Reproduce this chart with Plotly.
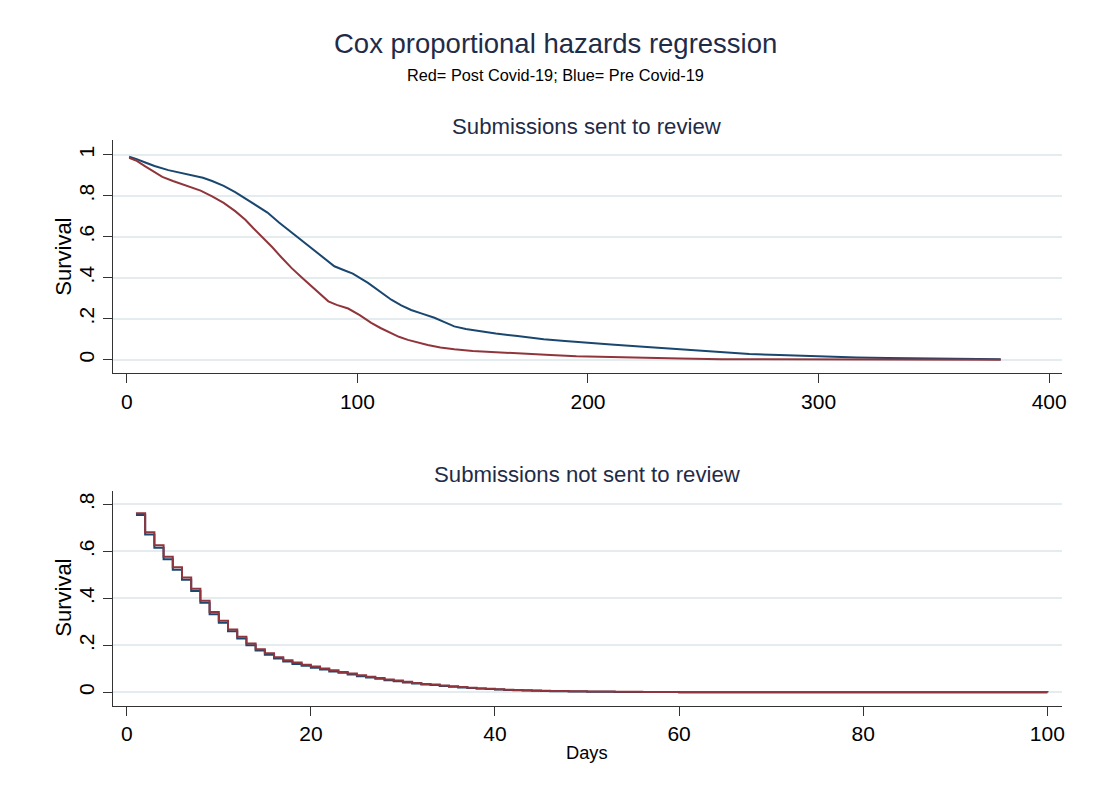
import plotly.graph_objects as go

# ---- Data: Submissions sent to review (top panel) ----
top_pre_days = [1, 4, 8, 12, 18, 23, 28, 33, 37, 42, 47, 51, 56, 61, 66, 71.5, 76, 80, 85, 90, 94, 98,
                104.6, 110, 114.7, 119, 123.3, 128, 133.4, 138, 142, 147, 153.5, 160, 169.4, 175, 180.8,
                190, 199, 210, 224, 235, 245.6, 258, 270, 283, 296.5, 316.6, 330, 347.5, 365, 379]
top_pre_surv = [0.990, 0.980, 0.962, 0.945, 0.925, 0.912, 0.900, 0.888, 0.872, 0.848, 0.818, 0.790, 0.755,
                0.718, 0.670, 0.620, 0.582, 0.545, 0.500, 0.456, 0.438, 0.420, 0.375, 0.330, 0.293, 0.265,
                0.243, 0.225, 0.205, 0.182, 0.163, 0.150, 0.138, 0.128, 0.116, 0.108, 0.100, 0.092, 0.083,
                0.075, 0.063, 0.055, 0.047, 0.035, 0.028, 0.023, 0.017, 0.011, 0.009, 0.0065, 0.004, 0.002]

top_post_days = [1, 4, 8, 12, 15.4, 20, 26, 32, 37, 42, 47, 51.4, 55, 58.6, 63, 67, 71.5, 76, 80, 84, 87.4,
                 91, 96, 101, 106, 110, 114.7, 118, 121.9, 126, 130.5, 136, 142, 150, 162, 172, 183.7, 195,
                 205, 220, 240, 258, 290, 330, 379]
top_post_surv = [0.985, 0.972, 0.943, 0.915, 0.892, 0.872, 0.850, 0.825, 0.797, 0.765, 0.725, 0.683, 0.640,
                 0.600, 0.550, 0.500, 0.447, 0.400, 0.358, 0.318, 0.285, 0.268, 0.250, 0.218, 0.180, 0.155,
                 0.130, 0.112, 0.097, 0.084, 0.072, 0.060, 0.051, 0.043, 0.035, 0.028, 0.023, 0.017, 0.014,
                 0.010, 0.006, 0.003, 0.002, 0.001, 0.000]

# ---- Data: Submissions not sent to review (bottom panel, step curves) ----
bot_days = [1, 2, 3, 4, 5, 6, 7, 8, 9, 10, 11, 12, 13, 14, 15, 16, 17, 18, 19, 20, 21, 22, 23, 24, 25,
            26, 27, 28, 29, 30, 31, 32, 33, 34, 35, 36, 37, 38, 39, 40, 41, 42, 43, 44, 45, 46, 48, 50,
            53, 56, 60, 65, 100]
bot_post_surv = [0.762, 0.681, 0.626, 0.577, 0.532, 0.489, 0.441, 0.390, 0.342, 0.305, 0.268, 0.237, 0.208,
                 0.184, 0.166, 0.150, 0.137, 0.127, 0.118, 0.110, 0.102, 0.094, 0.087, 0.080, 0.073, 0.067,
                 0.061, 0.055, 0.050, 0.045, 0.040, 0.036, 0.033, 0.029, 0.026, 0.023, 0.020, 0.017, 0.015,
                 0.013, 0.011, 0.010, 0.009, 0.008, 0.007, 0.006, 0.005, 0.004, 0.003, 0.002, 0.001, 0.0005,
                 0.0]
bot_pre_surv = [0.755, 0.672, 0.616, 0.567, 0.522, 0.479, 0.431, 0.381, 0.333, 0.296, 0.260, 0.229, 0.201,
                0.178, 0.160, 0.144, 0.131, 0.121, 0.113, 0.105, 0.097, 0.089, 0.083, 0.076, 0.069, 0.063,
                0.058, 0.052, 0.047, 0.042, 0.038, 0.034, 0.031, 0.027, 0.024, 0.021, 0.019, 0.016, 0.014,
                0.012, 0.010, 0.009, 0.008, 0.007, 0.006, 0.005, 0.004, 0.003, 0.002, 0.0015, 0.001, 0.0004,
                0.0]

top_yticks = [0, 0.2, 0.4, 0.6, 0.8, 1]
top_yticktext = ["0", ".2", ".4", ".6", ".8", "1"]
bot_yticks = [0, 0.2, 0.4, 0.6, 0.8]
bot_yticktext = ["0", ".2", ".4", ".6", ".8"]
top_xticks = [0, 100, 200, 300, 400]
bot_xticks = [0, 20, 40, 60, 80, 100]

BLUE = "#1a476f"
RED = "#90353b"
GRID = "#e4ecef"
AXIS = "#333333"
FONT = "Liberation Sans, Arial, sans-serif"

# page body offsets the figure; figure is sized to fit inside the window
OFF_X, OFF_Y = 5, 8
W, H = 1094 - 16, 803 - 16


def px(x):
    return (x - OFF_X) / W


def py(y):
    return 1 - (y - OFF_Y) / H


fig = go.Figure()
fig.add_trace(go.Scatter(x=top_pre_days, y=top_pre_surv, mode="lines",
                         line=dict(color=BLUE, width=2), xaxis="x", yaxis="y", showlegend=False))
fig.add_trace(go.Scatter(x=top_post_days, y=top_post_surv, mode="lines",
                         line=dict(color=RED, width=2), xaxis="x", yaxis="y", showlegend=False))
fig.add_trace(go.Scatter(x=bot_days, y=bot_pre_surv, mode="lines",
                         line=dict(color=BLUE, width=2, shape="hv"), xaxis="x2", yaxis="y2", showlegend=False))
fig.add_trace(go.Scatter(x=bot_days, y=bot_post_surv, mode="lines",
                         line=dict(color=RED, width=2, shape="hv"), xaxis="x2", yaxis="y2", showlegend=False))

xdom = [px(110.7), px(1064)]
common_x = dict(showline=True, linecolor=AXIS, linewidth=1.3, ticks="outside", ticklen=9,
                tickcolor=AXIS, tickwidth=1.3, showgrid=False, zeroline=False,
                tickfont=dict(family=FONT, size=21, color="#000000"), ticklabelstandoff=0)
common_y = dict(showline=True, linecolor=AXIS, linewidth=1.3, ticks="outside", ticklen=9,
                tickcolor=AXIS, tickwidth=1.3, showgrid=True, gridcolor=GRID, gridwidth=1.5,
                zeroline=False, tickangle=-90,
                tickfont=dict(family=FONT, size=21, color="#000000"), ticklabelstandoff=1)

fig.update_layout(
    width=W, height=H,
    margin=dict(l=0, r=0, t=0, b=0),
    paper_bgcolor="white", plot_bgcolor="white",
    xaxis=dict(domain=xdom, range=[-5.9, 405.6], tickvals=top_xticks, anchor="y", **common_x),
    yaxis=dict(domain=[py(373.3), py(140)], range=[-0.066, 1.072], tickvals=top_yticks,
               ticktext=top_yticktext, anchor="x", **common_y),
    xaxis2=dict(domain=xdom, range=[-1.47, 101.6], tickvals=bot_xticks, anchor="y2", **common_x),
    yaxis2=dict(domain=[py(706), py(491)], range=[-0.058, 0.857], tickvals=bot_yticks,
                ticktext=bot_yticktext, anchor="x2", **common_y),
)

TITLE_C = "#1f2c48"
ann = [
    dict(text="Cox proportional hazards regression", x=555, y=44, size=27.5, color=TITLE_C, angle=0),
    dict(text="Red= Post Covid-19; Blue= Pre Covid-19", x=555.5, y=75, size=16.3, color="#000000", angle=0),
    dict(text="Submissions sent to review", x=587, y=126, size=22.2, color=TITLE_C, angle=0),
    dict(text="Submissions not sent to review", x=587, y=475, size=22.2, color=TITLE_C, angle=0),
    dict(text="Survival", x=60, y=257, size=22, color="#000000", angle=-90),
    dict(text="Survival", x=60, y=598, size=22, color="#000000", angle=-90),
    dict(text="Days", x=587, y=752, size=18.3, color="#000000", angle=0),
]
for a in ann:
    fig.add_annotation(text=a["text"], x=px(a["x"]), y=py(a["y"]), xref="paper", yref="paper",
                       xanchor="center", yanchor="middle", showarrow=False, textangle=a["angle"],
                       font=dict(family=FONT, size=a["size"], color=a["color"]))

fig.write_html("out.html")
